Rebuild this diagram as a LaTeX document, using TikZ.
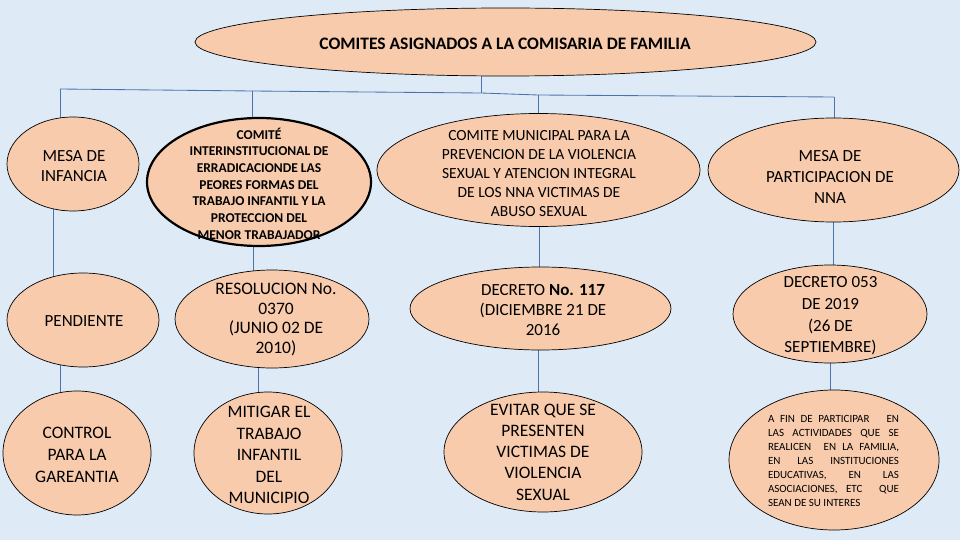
\documentclass[tikz,border=0pt]{standalone}
\usepackage{fontspec}
\setmainfont{Carlito}
\usetikzlibrary{shapes.geometric}
\definecolor{bgblue}{HTML}{DEEBF7}
\definecolor{peach}{HTML}{F8CBAD}
\definecolor{linkblue}{HTML}{4A74AE}
\pgfdeclarelayer{bg}
\pgfdeclarelayer{links}
\pgfsetlayers{bg,links,main}
\begin{document}
\begin{tikzpicture}[x=1pt,y=-1pt,
  blob/.style={ellipse, draw=black, line width=0.7pt, fill=peach, inner sep=0pt},
  thickblob/.style={blob, line width=2.2pt},
  link/.style={draw=linkblue, line width=0.85pt},
  lbl/.style={align=center, inner sep=0pt, text=black},
  big/.style={font=\fontsize{17}{20.5}\selectfont},
]
\useasboundingbox (0,0) rectangle (960,540);
\begin{pgfonlayer}{bg}
  \fill[bgblue] (0,0) rectangle (960,540);
\end{pgfonlayer}

% shapes
\node[blob, minimum width=621pt, minimum height=68pt] (top) at (505.5,42) {};
\node[blob, minimum width=132pt, minimum height=94pt] (mesa) at (73,164) {};
\node[thickblob, minimum width=224pt, minimum height=128pt] (comite) at (259,182) {};
\node[blob, minimum width=323pt, minimum height=113pt] (muni) at (538.5,170) {};
\node[blob, minimum width=251pt, minimum height=104pt] (mpart) at (833.5,170) {};
\node[blob, minimum width=152pt, minimum height=94pt] (pend) at (83,320) {};
\node[blob, minimum width=194pt, minimum height=98pt] (resol) at (272,319) {};
\node[blob, minimum width=261pt, minimum height=83pt] (dec117) at (540.5,308.5) {};
\node[blob, minimum width=194pt, minimum height=98pt] (dec053) at (830,314) {};
\node[blob, minimum width=148pt, minimum height=124pt] (ctrl) at (77,453) {};
\node[blob, minimum width=148pt, minimum height=122pt] (mitig) at (268,453) {};
\node[blob, minimum width=198pt, minimum height=120pt] (evitar) at (543,452) {};
\node[blob, minimum width=210pt, minimum height=140pt] (afin) at (834,460) {};

% texts
\node[lbl, font=\bfseries\fontsize{17.5}{21}\selectfont] (ttop) at (505,44) {COMITES ASIGNADOS A LA COMISARIA DE FAMILIA};
\node[lbl, big] (tmesa) at (74,166) {MESA DE\\INFANCIA};
\node[lbl, font=\bfseries\fontsize{13.5}{16.7}\selectfont] (tcomite) at (259,183.5) {COMITÉ\\INTERINSTITUCIONAL DE\\ERRADICACIONDE LAS\\PEORES FORMAS DEL\\TRABAJO INFANTIL Y LA\\PROTECCION DEL\\MENOR TRABAJADOR};
\node[lbl, font=\fontsize{15.5}{19}\selectfont] (tmuni) at (539,173.5) {COMITE MUNICIPAL PARA LA\\PREVENCION DE LA VIOLENCIA\\SEXUAL Y ATENCION INTEGRAL\\DE LOS NNA VICTIMAS DE\\ABUSO SEXUAL};
\node[lbl, font=\fontsize{17}{21}\selectfont] (tmpart) at (830,177) {MESA DE\\PARTICIPACION DE\\NNA};
\node[lbl, big] (tpend) at (84,321) {PENDIENTE};
\node[lbl, font=\fontsize{17.5}{19.8}\selectfont] (tresol) at (276,319.5) {RESOLUCION No.\\0370\\(JUNIO 02 DE\\2010)};
\node[lbl, font=\fontsize{17}{20}\selectfont] (tdec117) at (543,310) {DECRETO \textbf{No. 117}\\(DICIEMBRE 21 DE\\2016};
\node[lbl, font=\fontsize{17}{21.7}\selectfont] (tdec053) at (830.5,316) {DECRETO 053\\DE 2019\\(26 DE\\SEPTIEMBRE)};
\node[lbl, font=\fontsize{17.5}{22}\selectfont] (tctrl) at (77,455) {CONTROL\\PARA LA\\GAREANTIA};
\node[lbl, font=\fontsize{17.5}{21.4}\selectfont] (tmitig) at (269,455) {MITIGAR EL\\TRABAJO\\INFANTIL\\DEL\\MUNICIPIO};
\node[lbl, font=\fontsize{17.5}{21.3}\selectfont] (tevitar) at (543,452) {EVITAR QUE SE\\PRESENTEN\\VICTIMAS DE\\VIOLENCIA\\SEXUAL};
\node[lbl, align=left, font=\fontsize{11}{14}\selectfont] (tafin) at (833.5,461) {%
\makebox[131pt][s]{A FIN DE PARTICIPAR\ \ \ EN}\\
\makebox[131pt][s]{LAS ACTIVIDADES QUE SE}\\
\makebox[131pt][s]{REALICEN\ \ EN LA FAMILIA,}\\
\makebox[131pt][s]{EN LAS INSTITUCIONES}\\
\makebox[131pt][s]{EDUCATIVAS, EN LAS}\\
\makebox[131pt][s]{ASOCIACIONES, ETC\ \ QUE}\\
SEAN DE SU INTERES};

% connectors
\begin{pgfonlayer}{links}
\coordinate (jl) at (60,89);
\coordinate (j1) at (252,91);
\coordinate (j0) at (481,93);
\coordinate (j2) at (538,95);
\coordinate (jr) at (834,97);
\draw[link] (top.center -| j0) -- (j0);
\draw[link] (jl) -- (j1) -- (j0) -- (j2) -- (jr);
\draw[link] (jl) -- (jl |- mesa.center);
\draw[link] (j1) -- (j1 |- comite.center);
\draw[link] (j2) -- (j2 |- muni.center);
\draw[link] (jr) -- (jr |- mpart.center);
\coordinate (c1) at ([xshift=-20pt]mesa.center);
\draw[link] (c1) -- (c1 |- pend.center);
\coordinate (c2) at ([xshift=-23pt]pend.center);
\draw[link] (c2) -- (c2 |- ctrl.center);
\coordinate (c3) at ([xshift=-6pt]comite.center);
\draw[link] (c3) -- (c3 |- resol.center);
\coordinate (c4) at ([xshift=-14pt]resol.center);
\draw[link] (c4) -- (c4 |- mitig.center);
\coordinate (c5) at ([xshift=0.5pt]muni.center);
\draw[link] (c5) -- (c5 |- dec117.center);
\coordinate (c6) at ([xshift=-2pt]dec117.center);
\draw[link] (c6) -- (c6 |- evitar.center);
\coordinate (c7) at ([xshift=-0.5pt]mpart.center);
\draw[link] (c7) -- (c7 |- dec053.center);
\coordinate (c8) at (dec053.center);
\draw[link] (c8) -- (c8 |- afin.center);
\end{pgfonlayer}
\end{tikzpicture}
\end{document}
